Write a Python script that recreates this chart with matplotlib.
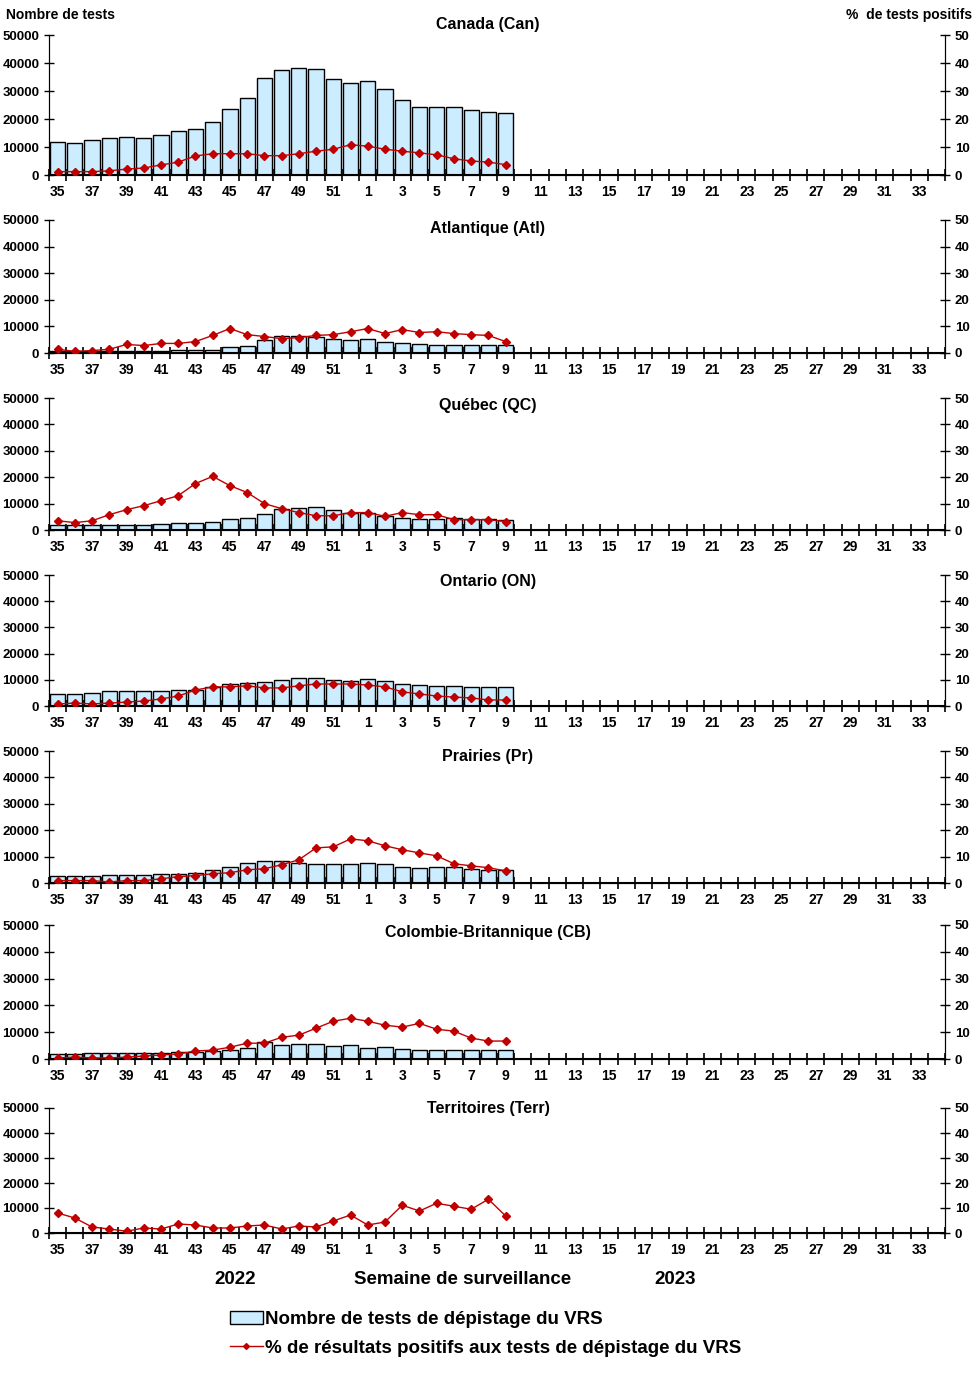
import numpy as np
import matplotlib
matplotlib.use("Agg")
import matplotlib.pyplot as plt
from matplotlib.patches import Patch
from matplotlib.lines import Line2D

plt.rcParams["font.family"] = ["Liberation Sans", "DejaVu Sans"]
plt.rcParams["font.weight"] = "bold"

# weeks 35-52 of 2022, then 1-34 of 2023
weeks = list(range(35, 53)) + list(range(1, 35))
n_data = 27  # weeks 35..9 have data

regions = ["Canada (Can)", "Atlantique (Atl)", "Québec (QC)", "Ontario (ON)",
           "Prairies (Pr)", "Colombie-Britannique (CB)", "Territoires (Terr)"]

tests_can = [11850, 11500, 12560, 13270, 13600, 13270, 14300, 15760, 16470, 18960,
             23580, 27490, 34600, 37440, 38150, 37800, 34240, 32820, 33530, 30690,
             26780, 24290, 24290, 24290, 23220, 22510, 22160]
pct_can = [1.2, 1.2, 1.2, 1.5, 2.1, 2.5, 3.6, 4.6, 6.8, 7.6, 7.6, 7.6, 6.9, 6.9,
           7.6, 8.5, 9.2, 10.8, 10.3, 9.2, 8.5, 7.9, 7.2, 5.8, 5.0, 4.6, 3.7]

tests_atl = [870, 870, 870, 700, 700, 600, 600, 1000, 1000, 1000, 2100, 2600, 4700,
             6300, 6300, 5900, 5100, 4700, 5100, 4000, 3600, 3200, 2850, 2850, 2850,
             2850, 2850]
pct_atl = [1.4, 0.6, 0.9, 1.4, 3.2, 2.8, 3.6, 3.6, 4.3, 6.6, 9.2, 6.9, 6.2, 5.4,
           5.8, 6.6, 6.9, 8.0, 9.2, 7.3, 8.8, 7.7, 8.0, 7.3, 6.9, 6.6, 4.3]

tests_qc = [2000, 2000, 2000, 2000, 2000, 2000, 2400, 2800, 2800, 3200, 4300, 4700,
            6200, 8100, 8500, 8900, 7700, 6600, 6600, 5400, 4700, 4300, 4300, 4700,
            4300, 4300, 3900]
pct_qc = [3.5, 2.8, 3.5, 5.8, 7.7, 9.2, 11.1, 13.0, 17.6, 20.3, 16.8, 14.2, 10.0,
          8.1, 6.6, 5.4, 5.4, 6.6, 6.6, 5.2, 6.6, 5.8, 5.8, 3.9, 3.9, 3.9, 3.2]

tests_on = [4500, 4500, 5000, 5700, 5700, 5700, 5700, 6100, 6100, 7300, 8400, 8800,
            9200, 9900, 10700, 10700, 9900, 9600, 10300, 9600, 8400, 8000, 7700, 7700,
            7300, 7300, 7300]
pct_on = [0.8, 1.1, 0.8, 1.1, 1.5, 1.9, 2.7, 3.8, 6.1, 7.3, 7.3, 7.7, 6.9, 6.9,
          7.7, 8.4, 8.4, 8.4, 8.0, 7.3, 5.4, 4.6, 3.8, 3.4, 3.1, 2.3, 2.3]

tests_pr = [2800, 2800, 2800, 3100, 3100, 3100, 3500, 3500, 3900, 5000, 6200, 7700,
            8400, 8400, 7700, 7300, 7300, 7300, 7700, 7300, 6200, 5800, 6200, 6200,
            5400, 5000, 5000]
pct_pr = [0.9, 0.9, 0.9, 0.4, 0.9, 0.9, 1.6, 2.4, 2.8, 3.5, 3.9, 5.0, 5.4, 6.9,
          8.8, 13.3, 13.7, 16.7, 16.0, 14.1, 12.6, 11.4, 10.3, 7.3, 6.5, 5.8, 4.6]

tests_cb = [1850, 1850, 2200, 2200, 2200, 2200, 2200, 2600, 2600, 3000, 3300, 4100,
            6300, 5200, 5600, 5600, 4800, 5200, 4100, 4400, 3700, 3300, 3300, 3300,
            3300, 3300, 3300]
pct_cb = [0.4, 0.7, 0.4, 0.4, 0.7, 1.1, 1.5, 1.9, 3.0, 3.3, 4.4, 5.9, 5.9, 8.1,
          8.9, 11.5, 14.1, 15.2, 14.1, 12.6, 11.9, 13.3, 11.1, 10.4, 7.8, 6.7, 6.7]

tests_terr = [120, 110, 100, 100, 100, 110, 110, 120, 120, 130, 140, 150, 170, 170,
              180, 170, 150, 140, 160, 150, 140, 140, 130, 130, 130, 120, 120]
pct_terr = [8.0, 6.0, 2.4, 1.6, 0.7, 2.0, 1.6, 3.6, 3.2, 2.0, 2.0, 2.8, 3.2, 1.6,
            2.8, 2.4, 4.8, 7.2, 3.2, 4.4, 11.1, 8.8, 11.9, 10.7, 9.5, 13.5, 6.8]

tests_all = [tests_can, tests_atl, tests_qc, tests_on, tests_pr, tests_cb, tests_terr]
pct_all = [pct_can, pct_atl, pct_qc, pct_on, pct_pr, pct_cb, pct_terr]

BAR_COLOR = "#CCECFF"
LINE_COLOR = "#C00000"

W, H = 976, 1374
fig = plt.figure(figsize=(W / 100, H / 100), dpi=100)

# axes boxes in pixels: (top, bottom)
boxes = [(35, 175), (220, 353), (398, 530), (575, 706), (751, 883), (925, 1059), (1108, 1233)]
title_y = [24, 229, 405, 581, 757, 933, 1109]
left_px, right_px = 49, 945

n = len(weeks)
x = np.arange(n)
xd = np.arange(n_data)

for i, (top, bot) in enumerate(boxes):
    ax = fig.add_axes([left_px / W, 1 - bot / H, (right_px - left_px) / W, (bot - top) / H])
    ax.bar(xd, tests_all[i], width=0.88, color=BAR_COLOR, edgecolor="black", linewidth=1.0, zorder=2)
    ax.set_xlim(-0.5, n - 0.5)
    ax.set_ylim(0, 50000)
    ax.set_yticks(range(0, 50001, 10000))
    ax.set_xticks(np.arange(-0.5, n, 1.0))
    ax.set_xticklabels([])
    ax.set_xticks(x[::2], minor=True)
    ax.set_xticklabels([str(w) for w in weeks[::2]], minor=True)
    ax.tick_params(axis="x", which="major", direction="inout", length=8, width=1.2)
    ax.tick_params(axis="x", which="minor", length=0, pad=7, labelsize=10)
    ax.tick_params(axis="y", direction="inout", length=7, width=1, labelsize=9.5)
    ax.spines["top"].set_visible(False)
    ax.spines["bottom"].set_linewidth(1.5)
    for lab in ax.get_xticklabels(minor=True) + ax.get_yticklabels():
        lab.set_fontweight("bold")

    ax2 = ax.twinx()
    ax2.plot(xd, pct_all[i], color=LINE_COLOR, lw=1.0, marker="D", markersize=4,
             markerfacecolor=LINE_COLOR, markeredgecolor=LINE_COLOR, zorder=3)
    ax2.set_ylim(0, 50)
    ax2.set_yticks(range(0, 51, 10))
    ax2.tick_params(axis="y", direction="inout", length=7, width=1, labelsize=9.5)
    ax2.spines["top"].set_visible(False)
    for lab in ax2.get_yticklabels():
        lab.set_fontweight("bold")

    fig.text(488 / W, 1 - title_y[i] / H, regions[i], ha="center", va="center",
             fontsize=11.5, fontweight="bold")

fig.text(6 / W, 1 - 15 / H, "Nombre de tests", ha="left", va="center", fontsize=10, fontweight="bold")
fig.text(972 / W, 1 - 15 / H, "%  de tests positifs", ha="right", va="center", fontsize=10, fontweight="bold")

fig.text(235 / W, 1 - 1279 / H, "2022", ha="center", va="center", fontsize=13.5, fontweight="bold")
fig.text(463 / W, 1 - 1279 / H, "Semaine de surveillance", ha="center", va="center", fontsize=13.5, fontweight="bold")
fig.text(675 / W, 1 - 1279 / H, "2023", ha="center", va="center", fontsize=13.5, fontweight="bold")

handles = [Patch(facecolor=BAR_COLOR, edgecolor="black", linewidth=1.0),
           Line2D([0], [0], color=LINE_COLOR, lw=1.0, marker="D", markersize=3)]
labels = ["Nombre de tests de dépistage du VRS", "% de résultats positifs aux tests de dépistage du VRS"]
fig.legend(handles, labels, loc="center left", bbox_to_anchor=(222 / W, 1 - 1334 / H),
           frameon=False, prop={"size": 13.5, "weight": "bold"}, handlelength=1.8,
           handletextpad=0.1, labelspacing=0.62, borderaxespad=0)

fig.savefig("out.png", dpi=100)
